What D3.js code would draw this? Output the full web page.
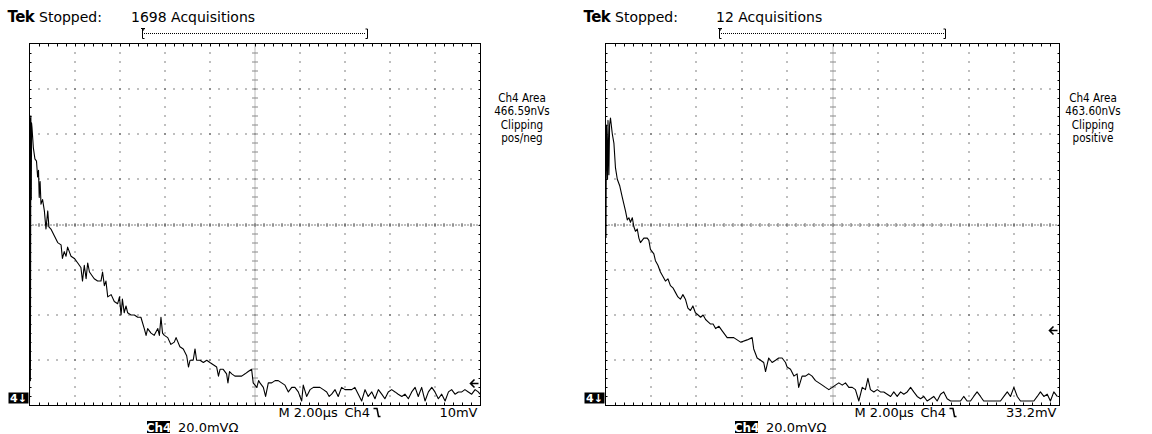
<!DOCTYPE html>
<html>
<head>
<meta charset="utf-8">
<script src="https://cdn.jsdelivr.net/npm/d3@7"></script>
<style>
  html, body { margin: 0; padding: 0; background: #fff; }
  svg { display: block; }
  text { font-family: "DejaVu Sans", "Liberation Sans", sans-serif; fill: #000; }
</style>
</head>
<body>
<svg id="scope" width="1152" height="434"></svg>
<script>
// Screen settings shared by both captures: 10 horizontal x 8 vertical divisions
const timePerDiv = 2;      // µs / div
const voltsPerDiv = 20;    // mV / div
const hDivs = 10, vDivs = 8;

// Capture A: averaged over 1698 acquisitions (time µs, amplitude mV)
const timeA = [0.00,0.02,0.04,0.06,0.08,0.09,0.11,0.17,0.24,0.31,0.36,0.40,0.43,0.47,0.51,0.58,0.66,0.73,0.81,0.86,0.95,1.10,1.25,1.40,1.46,1.54,1.62,1.69,1.84,1.99,2.14,2.28,2.35,2.43,2.51,2.58,2.66,2.73,2.87,3.02,3.17,3.24,3.32,3.39,3.47,3.62,3.76,3.91,3.99,4.06,4.12,4.20,4.28,4.35,4.50,4.65,4.80,4.94,5.09,5.17,5.24,5.39,5.53,5.69,5.76,5.83,5.90,5.98,6.13,6.27,6.42,6.50,6.67,6.82,6.97,7.05,7.12,7.26,7.34,7.41,7.56,7.71,7.86,8.00,8.15,8.30,8.38,8.45,8.59,8.74,8.80,8.87,8.97,9.11,9.26,9.41,9.56,9.70,9.85,9.92,10.08,10.16,10.22,10.37,10.47,10.59,10.74,10.89,11.03,11.18,11.33,11.48,11.63,11.77,11.92,12.07,12.14,12.29,12.44,12.59,12.74,12.88,13.03,13.18,13.29,13.40,13.55,13.69,13.84,13.99,14.14,14.29,14.43,14.58,14.73,14.88,15.02,15.18,15.32,15.47,15.62,15.76,15.91,16.06,16.21,16.35,16.51,16.65,16.80,16.95,17.10,17.24,17.39,17.54,17.69,17.84,17.98,18.13,18.28,18.43,18.58,18.72,18.87,19.02,19.17,19.31,19.46,19.61,19.76,19.90,19.98];
const voltA = [1,127,11,128,91,125,123,114,109,108,101,104,92,99,89,91,86,78,86,79,78,75,72,71,65,68,66,70,66,65,63,61,55,62,56,63,59,58,56,55,55,59,53,55,48,49,46,45,48,40,47,41,44,41,40,40,39,39,34,31,34,32,31,34,31,39,32,31,30,27,28,30,26,25,22,17,20,20,25,20,20,19,20,19,18,17,13,16,16,14,10,15,14,13,13,13,14,15,16,10,8,11,10,8,4,10,10,11,11,10,9,6,8,8,6,2,9,4,7,8,8,8,7,6,4,5,7,4,8,7,7,7,8,5,2,7,4,6,3,7,5,3,6,7,6,5,4,5,3,6,8,4,8,2,6,8,6,3,5,2,6,7,5,6,6,7,6,5,7,6,5];

// Capture B: 12 acquisitions
const timeB = [0.02,0.04,0.09,0.11,0.15,0.18,0.22,0.30,0.37,0.44,0.52,0.63,0.74,0.81,0.88,0.96,1.03,1.10,1.18,1.25,1.32,1.40,1.47,1.54,1.69,1.84,1.91,1.98,2.13,2.20,2.31,2.42,2.53,2.64,2.75,2.86,2.97,3.08,3.19,3.30,3.41,3.52,3.63,3.74,3.85,3.96,4.08,4.19,4.30,4.41,4.52,4.63,4.74,4.85,5.00,5.14,5.36,5.65,5.95,6.24,6.46,6.53,6.68,6.83,6.97,7.05,7.19,7.34,7.49,7.63,7.78,7.93,8.00,8.15,8.30,8.44,8.51,8.66,8.81,8.96,9.10,9.25,9.40,9.55,9.69,9.84,9.99,10.13,10.28,10.43,10.57,10.72,10.87,11.01,11.16,11.31,11.45,11.56,11.67,11.82,11.97,12.11,12.26,12.41,12.56,12.70,12.85,13.00,13.14,13.29,13.44,13.58,13.73,13.88,14.02,14.17,14.32,14.46,14.61,14.76,14.90,15.05,15.20,15.34,15.49,15.64,15.78,15.93,16.08,16.22,16.37,16.52,16.66,16.81,16.96,17.11,17.25,17.40,17.55,17.70,17.84,17.99,18.14,18.28,18.43,18.58,18.72,18.87,19.02,19.16,19.31,19.46,19.60,19.75,19.90,19.97];
const voltB = [74,124,100,126,102,124,127,120,116,105,100,97,92,89,86,82,83,81,83,79,77,78,74,72,74,74,73,69,67,64,62,59,57,55,56,53,52,50,48,47,49,47,43,42,44,41,40,39,40,38,37,36,36,34,35,33,30,30,28,29,30,25,21,20,19,15,21,19,20,21,21,19,17,16,13,14,8,13,13,14,13,11,10,9,8,7,8,9,10,9,10,8,8,7,2,8,7,12,7,6,7,6,6,5,4,6,4,6,5,6,8,6,4,3,4,2,3,4,2,5,6,3,2,2,2,2,4,2,2,4,6,4,2,2,2,2,2,2,4,6,4,8,4,2,2,2,2,2,4,6,4,5,2,6,4];

// Readouts
const acquisitions = ["1698 Acquisitions", "12 Acquisitions"];
const areaReadout = ["466.59nVs", "463.60nVs"];
const clipReadout = ["pos/neg", "positive"];
const triggerLevel = [10, 33.2];           // mV
const triggerLabel = ["10mV", "33.2mV"];
const recordView = [[0.25, 0.75], [0.25, 0.75]]; // displayed part of record

// Screen placement of each capture
const panels = [
  { left: 29.5, right: 480.5, top: 43.5, bottom: 405.5, readoutX: 522, acqX: 131, chBoxX: 147 },
  { left: 605.5, right: 1059.5, top: 43.5, bottom: 405.5, readoutX: 1093, acqX: 716, chBoxX: 735 }
];

const svg = d3.select("#scope");

function drawPanel(i, times, volts) {
  const p = panels[i];
  const g = svg.append("g");
  const x = d3.scaleLinear().domain([0, hDivs * timePerDiv]).range([p.left, p.right]);
  const y = d3.scaleLinear().domain([0, vDivs * voltsPerDiv]).range([p.bottom, p.top]);

  const xMajor = d3.range(0, hDivs * timePerDiv + 1e-9, timePerDiv);
  const yMajor = d3.range(0, vDivs * voltsPerDiv + 1e-9, voltsPerDiv);
  const xMinor = d3.range(0, hDivs * timePerDiv + 1e-9, timePerDiv / 5);
  const yMinor = d3.range(0, vDivs * voltsPerDiv + 1e-9, voltsPerDiv / 5);
  const xMid = hDivs * timePerDiv / 2, yMid = vDivs * voltsPerDiv / 2;

  // dotted graticule: one dot per fifth of a division
  const grid = g.append("g").attr("fill", "#000");
  xMajor.slice(1, -1).filter(t => t !== xMid).forEach(t => {
    grid.selectAll(null).data(yMinor.slice(1, -1)).join("rect")
      .attr("x", Math.round(x(t)) - 0.5).attr("y", d => Math.round(y(d)) - 0.5)
      .attr("width", 1).attr("height", 1);
  });
  yMajor.slice(1, -1).filter(v => v !== yMid).forEach(v => {
    grid.selectAll(null).data(xMinor.slice(1, -1)).join("rect")
      .attr("x", d => Math.round(x(d)) - 0.5).attr("y", Math.round(y(v)) - 0.5)
      .attr("width", 1).attr("height", 1);
  });

  // centre cross: fine dotted lines with tick marks
  const cx = Math.round(x(xMid)), cy = Math.round(y(yMid));
  g.append("line").attr("x1", p.left).attr("x2", p.right).attr("y1", cy).attr("y2", cy)
    .attr("stroke", "#000").attr("stroke-width", 1).attr("stroke-dasharray", "1,2");
  g.append("line").attr("x1", cx).attr("x2", cx).attr("y1", p.top).attr("y2", p.bottom)
    .attr("stroke", "#777").attr("stroke-width", 1).attr("stroke-dasharray", "1,1");
  g.append("g").selectAll("line").data(xMinor.slice(1, -1)).join("line")
    .attr("x1", d => Math.round(x(d))).attr("x2", d => Math.round(x(d)))
    .attr("y1", cy - 2).attr("y2", cy + 2).attr("stroke", "#666").attr("stroke-width", 1);
  g.append("g").selectAll("line").data(yMinor.slice(1, -1)).join("line")
    .attr("y1", d => Math.round(y(d))).attr("y2", d => Math.round(y(d)))
    .attr("x1", cx - 3).attr("x2", cx + 3).attr("stroke", "#888").attr("stroke-width", 1);

  // frame with inward minor ticks
  const frame = g.append("g").attr("stroke", "#000").attr("stroke-width", 1);
  frame.append("rect").attr("x", p.left).attr("y", p.top)
    .attr("width", p.right - p.left).attr("height", p.bottom - p.top).attr("fill", "none");
  frame.selectAll(null).data(xMinor.slice(1, -1)).join("line")
    .attr("x1", d => Math.round(x(d)) + 0.5).attr("x2", d => Math.round(x(d)) + 0.5)
    .attr("y1", p.top).attr("y2", p.top + 3);
  frame.selectAll(null).data(xMinor.slice(1, -1)).join("line")
    .attr("x1", d => Math.round(x(d)) + 0.5).attr("x2", d => Math.round(x(d)) + 0.5)
    .attr("y1", p.bottom).attr("y2", p.bottom - 3);
  frame.selectAll(null).data(yMinor.slice(1, -1)).join("line")
    .attr("y1", d => Math.round(y(d)) + 0.5).attr("y2", d => Math.round(y(d)) + 0.5)
    .attr("x1", p.left).attr("x2", p.left + 2);
  frame.selectAll(null).data(yMinor.slice(1, -1)).join("line")
    .attr("y1", d => Math.round(y(d)) + 0.5).attr("y2", d => Math.round(y(d)) + 0.5)
    .attr("x1", p.right).attr("x2", p.right - 2);

  // waveform, clipped to the screen
  const clipId = "clip" + i;
  svg.append("clipPath").attr("id", clipId).append("rect")
    .attr("x", p.left).attr("y", p.top).attr("width", p.right - p.left).attr("height", p.bottom - p.top);
  const line = d3.line().x((d, k) => x(times[k])).y(d => y(d));
  g.append("path").datum(volts).attr("clip-path", `url(#${clipId})`)
    .attr("d", line).attr("fill", "none").attr("stroke", "#000")
    .attr("stroke-width", 1.1).attr("stroke-linejoin", "round");

  // header
  const hdr = g.append("g");
  hdr.append("text").attr("x", p.left - 22).attr("y", 22).attr("font-size", 15)
    .attr("font-weight", "bold").attr("letter-spacing", -0.6).text("Tek");
  hdr.append("text").attr("x", p.left + 9.5).attr("y", 22).attr("font-size", 14).text("Stopped:");
  hdr.append("text").attr("x", p.acqX).attr("y", 22).attr("font-size", 14).text(acquisitions[i]);

  // record view bar
  const rv = d3.scaleLinear().domain([0, 1]).range([p.left, p.right]);
  const b0 = Math.round(rv(recordView[i][0])), b1 = Math.round(rv(recordView[i][1]));
  const bar = g.append("g").attr("stroke", "#000").attr("stroke-width", 1).attr("fill", "none");
  bar.append("line").attr("x1", b0 + 2).attr("x2", b1 - 2).attr("y1", 33.5).attr("y2", 33.5)
    .attr("stroke-dasharray", "1,1");
  bar.append("path").attr("d", `M${b0 + 2.5},29 H${b0 + 0.5} V38.5 H${b0 + 2.5}`);
  bar.append("path").attr("d", `M${b1 - 2.5},29 H${b1 - 0.5} V38.5 H${b1 - 2.5}`);
  bar.append("path").attr("d", `M${b0 - 1},28.5 H${b0 + 3} M${b0 + 1},28.5 V31`);

  // side readout (narrow screen font)
  const side = g.append("g").attr("text-anchor", "middle").attr("font-size", 13);
  ["Ch4 Area", areaReadout[i], "Clipping", clipReadout[i]].forEach((s, k) => {
    side.append("text")
      .attr("transform", `translate(${p.readoutX},${101.5 + k * 13.5}) scale(0.8,1)`)
      .text(s);
  });

  // ground marker
  const gm = g.append("g");
  gm.append("rect").attr("x", p.left - 21).attr("y", p.bottom - 13).attr("width", 20).attr("height", 11).attr("fill", "#000");
  gm.append("text").attr("x", p.left - 11).attr("y", p.bottom - 3.5).attr("text-anchor", "middle")
    .attr("font-size", 11).attr("font-weight", "bold").style("fill", "#fff").text("4\u2193");

  // trigger level arrow
  const ty = Math.round(y(triggerLevel[i])) + 0.5;
  g.append("path").attr("d", `M${p.right - 2},${ty} H${p.right - 10} M${p.right - 6},${ty - 4} L${p.right - 10},${ty} L${p.right - 6},${ty + 4}`)
    .attr("stroke", "#000").attr("fill", "none").attr("stroke-width", 1.6);

  // bottom status line
  const st = g.append("g").attr("font-size", 13);
  st.append("text").attr("x", p.left + 249).attr("y", 417).text("M 2.00\u00b5s");
  st.append("text").attr("x", p.left + 315).attr("y", 417).text("Ch4");
  const sx = p.left + 344;
  st.append("path").attr("d", `M${sx},408.5 H${sx + 4} M${sx + 3.5},408.5 L${sx + 5},416.5 H${sx + 7}`)
    .attr("stroke", "#000").attr("stroke-width", 1.5).attr("fill", "none");
  st.append("text").attr("x", p.right - 3).attr("y", 417).attr("text-anchor", "end").text(triggerLabel[i]);

  const ch = g.append("g");
  ch.append("rect").attr("x", p.chBoxX).attr("y", 421).attr("width", 23).attr("height", 12).attr("fill", "#000");
  ch.append("text").attr("x", p.chBoxX + 11.5).attr("y", 431.5).attr("text-anchor", "middle")
    .attr("font-size", 12).attr("font-weight", "bold").style("fill", "#fff").text("Ch4");
  ch.append("text").attr("x", p.chBoxX + 31).attr("y", 431.5).attr("font-size", 13).text("20.0mV\u03a9");
}

drawPanel(0, timeA, voltA);
drawPanel(1, timeB, voltB);
</script>
</body>
</html>
